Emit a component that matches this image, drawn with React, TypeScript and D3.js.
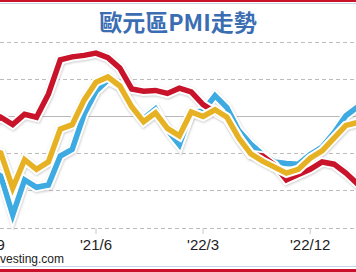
import React from "react";
import * as d3 from "d3";

const months = ["'20/9","'20/10","'20/11","'20/12","'21/1","'21/2","'21/3","'21/4","'21/5","'21/6","'21/7","'21/8","'21/9","'21/10","'21/11","'21/12","'22/1","'22/2","'22/3","'22/4","'22/5","'22/6","'22/7","'22/8","'22/9","'22/10","'22/11","'22/12","'23/1","'23/2","'23/3","'23/4","'23/5"];
const manufacturing = [53.7,54.8,53.8,55.2,54.8,57.9,62.5,62.9,63.1,63.4,62.8,61.4,58.6,58.3,58.4,58.0,58.7,58.2,56.5,55.5,54.6,52.1,49.8,49.6,48.4,46.4,47.1,47.8,48.8,48.5,47.3,45.8,44.8];
const services = [48.0,46.9,41.7,46.4,45.4,45.7,49.6,50.5,55.2,58.3,59.8,59.0,56.4,54.6,55.9,53.1,51.1,55.5,55.6,57.7,56.1,53.0,51.2,49.8,48.8,48.6,48.5,49.8,50.8,52.7,55.0,56.2,55.1];
const composite = [50.4,50.0,45.3,49.1,47.8,48.8,53.2,53.8,57.1,59.5,60.2,59.0,56.2,54.2,55.4,53.3,52.3,55.5,54.9,55.8,54.8,52.0,49.9,48.9,48.1,47.3,47.8,49.3,50.3,52.0,53.7,54.1,52.8];
const gridValues = [60, 55, 50, 45, 40];
const tickLabels = ["'20/9", "'21/6", "'22/3", "'22/12"];

const W = 356, H = 272;

export default function App() {
  const x = d3.scaleLinear().domain([0, months.length - 1]).range([-11.1, -11.1 + 32 * 11.9]);
  const y = d3.scaleLinear().domain([40, 60]).range([227.5, 78.5]);
  const line = d3.line<number>().x((_, i) => x(i)).y(d => y(d)).curve(d3.curveLinear);
  const series = [
    { name: "services", data: services, color: "#3daae2" },
    { name: "manufacturing", data: manufacturing, color: "#c8132b" },
    { name: "composite", data: composite, color: "#e6b223" },
  ];
  return (
    <svg width={W} height={H} style={{ position: "absolute", left: 0, top: 0, background: "#fff" }}>
      <defs>
        <filter id="sh" x="-10%" y="-10%" width="120%" height="120%">
          <feGaussianBlur stdDeviation="1.2" />
        </filter>
      </defs>
      <rect x={0} y={0} width={W} height={2} fill="#c8132b" />
      <rect x={0} y={3} width={W} height={1} fill="#c9d6e6" />
      <text x={178} y={31} textAnchor="middle" fontFamily="'Noto Sans CJK TC', sans-serif" fontWeight="bold" fontSize={23} fill="#3b6db3">歐元區PMI走勢</text>
      <line x1={0} x2={W} y1={42.5} y2={42.5} stroke="#bdbdbd" strokeWidth={1.2} strokeDasharray="4 3" />
      {gridValues.map(v => (
        <line key={v} x1={0} x2={W} y1={Math.round(y(v)) + 0.5} y2={Math.round(y(v)) + 0.5}
          stroke={v === 55 ? "#b8b8b8" : "#bcbcbc"} strokeWidth={1.2} strokeDasharray={v === 55 ? undefined : "4 3"} />
      ))}
      {tickLabels.map(t => {
        const i = months.indexOf(t);
        return (
          <g key={t}>
            <line x1={x(i)} x2={x(i)} y1={228} y2={234} stroke="#c8c8c8" strokeWidth={1} />
            <text x={x(i)} y={250} textAnchor="middle" fontFamily="'Liberation Sans', Arial, sans-serif" fontSize={15} fill="#222">{t}</text>
          </g>
        );
      })}
      <text x={-10} y={263} fontFamily="'Liberation Sans', Arial, sans-serif" fontSize={12} fill="#222">Investing.com</text>
      {series.map(s => (
        <path key={s.name + "sh"} d={line(s.data) || ""} fill="none" stroke="#999" strokeOpacity={0.5} strokeWidth={9.5} strokeLinejoin="miter" filter="url(#sh)" transform="translate(0.5,1)" />
      ))}
      {series.map(s => (
        <g key={s.name}>
          <path d={line(s.data) || ""} fill="none" stroke="#fff" strokeWidth={9.5} strokeLinejoin="miter" />
          <path d={line(s.data) || ""} fill="none" stroke={s.color} strokeWidth={5.5} strokeLinejoin="miter" />
        </g>
      ))}
      <rect x={0} y={266} width={W} height={1} fill="#c9d6e6" />
      <rect x={0} y={269} width={W} height={3} fill="#c8132b" />
    </svg>
  );
}
